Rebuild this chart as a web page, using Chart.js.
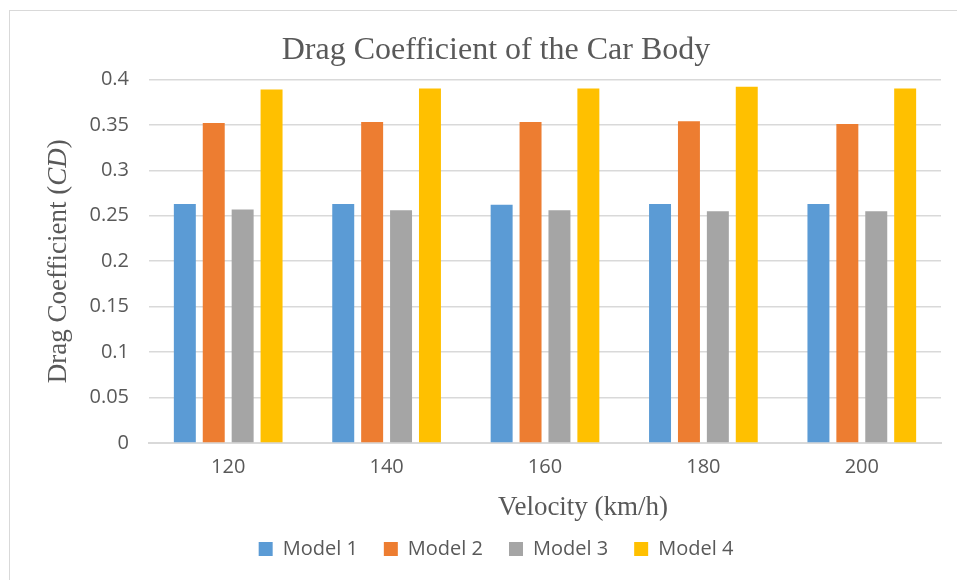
<!DOCTYPE html>
<html>
<head>
<meta charset="utf-8">
<script src="https://cdn.jsdelivr.net/npm/chart.js@4.4.1/dist/chart.umd.min.js"></script>
<style>
    body { margin: 0; background: #fff; overflow: hidden; }
    #box {
        position: absolute; left: 9px; top: 10px;
        width: 966px; height: 580px;
        border: 1px solid #d9d9d9;
        background: #fff;
    }
</style>
</head>
<body>
<div id="box"><canvas id="myChart"></canvas></div>
<script>
var velocities = ['120', '140', '160', '180', '200'];
var model1 = [0.263, 0.263, 0.262, 0.263, 0.263];
var model2 = [0.352, 0.353, 0.353, 0.354, 0.351];
var model3 = [0.257, 0.256, 0.256, 0.255, 0.255];
var model4 = [0.389, 0.390, 0.390, 0.392, 0.390];
var seriesNames = ['Model 1', 'Model 2', 'Model 3', 'Model 4'];
var seriesColors = ['#5b9bd5', '#ed7d31', '#a5a5a5', '#ffc000'];

var textGray = '#595959';
var sans = '"Open Sans", Lato, sans-serif';
var serif = '"Liberation Serif", "DejaVu Serif", serif';

// axis titles drawn by hand so the (CD) part can be italic like the original
var axisTitles = {
    id: 'axisTitles',
    afterDraw: function(chart) {
        var ctx = chart.ctx;
        var area = chart.chartArea;
        ctx.save();
        ctx.fillStyle = textGray;
        ctx.textBaseline = 'middle';

        // x title
        ctx.font = '27px ' + serif;
        ctx.textAlign = 'center';
        ctx.fillText('Velocity (km/h)', (area.left + area.right) / 2 + 38, 497);

        // y title, rotated
        var plain = 'Drag Coefficient (';
        var ital = 'CD';
        var close = ')';
        ctx.font = '27px ' + serif;
        var w1 = ctx.measureText(plain).width;
        var w3 = ctx.measureText(close).width;
        ctx.font = 'italic 27px ' + serif;
        var w2 = ctx.measureText(ital).width;
        var total = w1 + w2 + w3;
        ctx.translate(49, (area.top + area.bottom) / 2);
        ctx.rotate(-Math.PI / 2);
        ctx.textAlign = 'left';
        var x = -total / 2;
        ctx.font = '27px ' + serif;
        ctx.fillText(plain, x, 0);
        ctx.font = 'italic 27px ' + serif;
        ctx.fillText(ital, x + w1, 0);
        ctx.font = '27px ' + serif;
        ctx.fillText(close, x + w1 + w2, 0);
        ctx.restore();
    }
};

var datasets = [model1, model2, model3, model4].map(function(values, i) {
    return {
        label: seriesNames[i],
        data: values,
        backgroundColor: seriesColors[i],
        categoryPercentage: 0.73,
        barPercentage: 0.76
    };
});

var chart = new Chart(document.getElementById('myChart'), {
    type: 'bar',
    data: { labels: velocities, datasets: datasets },
    options: {
        responsive: true,
        maintainAspectRatio: false,
        animation: false,
        layout: { padding: { left: 41, right: 35, top: 0, bottom: 22 } },
        plugins: {
            title: {
                display: true,
                text: 'Drag Coefficient of the Car Body',
                color: textGray,
                font: { family: serif, size: 32, weight: 'normal' },
                padding: { top: 20, bottom: 10 }
            },
            legend: {
                position: 'bottom',
                labels: {
                    color: textGray,
                    font: { family: sans, size: 20 },
                    boxWidth: 14,
                    boxHeight: 14,
                    padding: 26
                }
            },
            tooltip: { enabled: false }
        },
        scales: {
            x: {
                grid: { display: false },
                border: { color: '#d9d9d9', width: 2 },
                ticks: { color: textGray, font: { family: sans, size: 20 }, padding: 4 },
                afterFit: function(scale) { scale.height = 70; }
            },
            y: {
                min: 0,
                max: 0.4,
                ticks: {
                    stepSize: 0.05,
                    color: textGray,
                    font: { family: sans, size: 20 },
                    padding: 20,
                    callback: function(v) { return parseFloat(v.toFixed(2)).toString(); }
                },
                grid: { color: '#d9d9d9', lineWidth: 1.5, drawTicks: false },
                border: { display: false },
                afterFit: function(scale) { scale.width = 98; }
            }
        }
    },
    plugins: [axisTitles]
});
</script>
</body>
</html>
